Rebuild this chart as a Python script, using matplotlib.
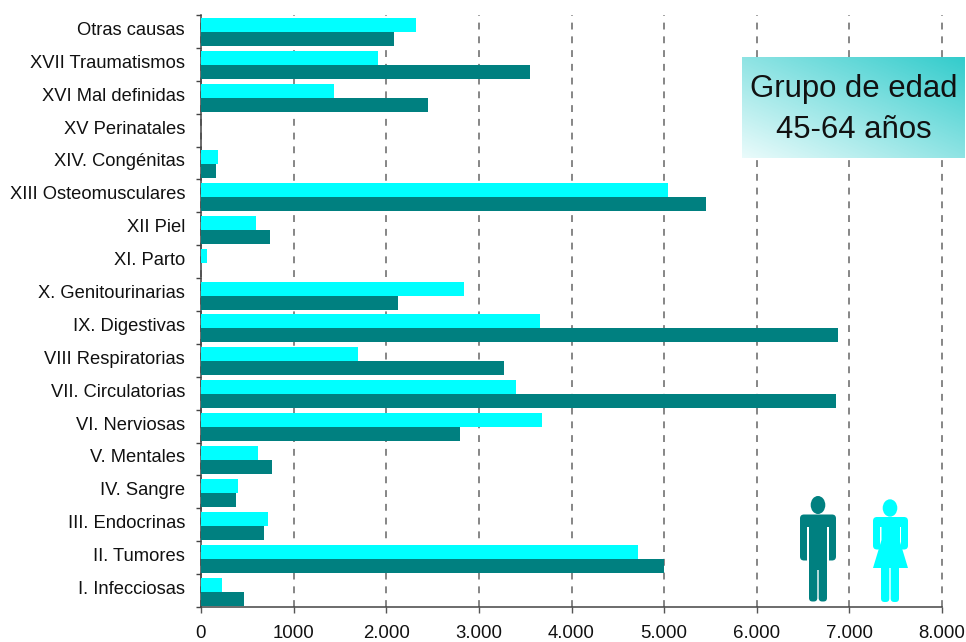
import numpy as np
import matplotlib
matplotlib.use("Agg")
import matplotlib.pyplot as plt
from matplotlib.colors import LinearSegmentedColormap
from matplotlib.patches import Ellipse, FancyBboxPatch, Polygon, Rectangle
from matplotlib.transforms import Affine2D

categories = ["Otras causas", "XVII Traumatismos", "XVI Mal definidas", "XV Perinatales",
              "XIV. Congénitas", "XIII Osteomusculares", "XII Piel", "XI. Parto",
              "X. Genitourinarias", "IX. Digestivas", "VIII Respiratorias", "VII. Circulatorias",
              "VI. Nerviosas", "V. Mentales", "IV. Sangre", "III. Endocrinas", "II. Tumores",
              "I. Infecciosas"]
mujeres = [2320, 1910, 1435, 0, 180, 5040, 595, 70, 2840, 3660, 1695, 3400, 3680, 615, 400, 725, 4720, 225]
hombres = [2080, 3550, 2450, 0, 160, 5450, 745, 0, 2125, 6875, 3270, 6855, 2795, 765, 380, 680, 5000, 465]
xticks = [0, 1000, 2000, 3000, 4000, 5000, 6000, 7000, 8000]
xticklabels = ["0", "1000", "2.000", "3.000", "4.000", "5.000", "6.000", "7.000", "8.000"]

W, H = 966, 642
CYAN, TEAL = "#00FFFF", "#008080"
plt.rcParams["font.family"] = ["Liberation Sans", "DejaVu Sans"]

fig = plt.figure(figsize=(W / 100, H / 100), dpi=100)
ax = fig.add_axes([201 / W, 1 - 607 / H, 741 / W, 592 / H])

y = np.arange(len(categories)) + 0.03
bar_h = 0.425
ax.barh(y - bar_h / 2, mujeres, height=bar_h, color=CYAN, zorder=3)
ax.barh(y + bar_h / 2, hombres, height=bar_h, color=TEAL, zorder=3)

ax.set_xlim(0, 8000)
ax.set_ylim(len(categories) - 0.5, -0.5)
ax.set_xticks(xticks, xticklabels, fontsize=13.4, color="#111111")
ax.tick_params(axis="x", length=4.3, width=1, color="#555555", pad=9)

# Category labels sit between the boundary ticks on the left spine
ax.set_yticks(np.arange(len(categories) + 1) - 0.5, [""] * (len(categories) + 1))
ax.tick_params(axis="y", length=3.6, width=1, color="#444444")
for yi, name in enumerate(categories):
    ax.annotate(name, xy=(0, yi), xycoords=("data", "data"), xytext=(-16, 1),
                textcoords="offset pixels", ha="right", va="center",
                fontsize=13.2, color="#111111")

ax.grid(axis="x", linestyle=(0, (4.5, 4.5)), color="#666666", linewidth=1.1, zorder=1)
for line in ax.get_xgridlines():
    line.set_clip_on(False)
for side in ("top", "right"):
    ax.spines[side].set_visible(False)
for side in ("left", "bottom"):
    ax.spines[side].set_color("#444444")
    ax.spines[side].set_linewidth(1.1)

# Age-group box with a diagonal gradient
box = fig.add_axes([742 / W, 1 - 158 / H, 223 / W, 101 / H], zorder=5)
gx, gy = np.meshgrid(np.linspace(0, 1, 200), np.linspace(0, 1, 100))
cmap = LinearSegmentedColormap.from_list("caja", ["#EAFBFB", "#33CCCC"])
box.imshow((gx + gy) / 2, origin="lower", cmap=cmap, aspect="auto", extent=(0, 1, 0, 1))
box.axis("off")
box.text(0.5, 0.68, "Grupo de edad", ha="center", va="center", fontsize=22.4, color="#111111")
box.text(0.5, 0.28, "45-64 años", ha="center", va="center", fontsize=22.4, color="#111111")

# Figure icons, laid out in pixels from the top-left corner
px = Affine2D().scale(1 / W, -1 / H).translate(0, 1) + fig.transFigure


def rounded(x0, y0, x1, y1, r, color):
    fig.add_artist(FancyBboxPatch((x0 + r, y0 + r), x1 - x0 - 2 * r, y1 - y0 - 2 * r,
                                  boxstyle=f"round,pad={r},rounding_size={r}",
                                  fc=color, ec="none", transform=px, zorder=6))


def head(cx, cy, rx, ry, color):
    fig.add_artist(Ellipse((cx, cy), 2 * rx, 2 * ry, fc=color, ec="none", transform=px, zorder=6))


# Man
head(818, 505, 7.3, 9, TEAL)
rounded(800, 514.5, 836, 560.5, 4, TEAL)
for x0, x1 in ((807, 809), (827, 829)):
    fig.add_artist(Rectangle((x0, 527), x1 - x0, 40, fc="white", ec="none", transform=px, zorder=6))
rounded(809, 520, 827, 570, 1, TEAL)
rounded(809, 550, 817.3, 601.5, 3.5, TEAL)
rounded(818.7, 550, 827, 601.5, 3.5, TEAL)

# Woman
head(890, 508, 7.3, 8.7, CYAN)
rounded(873, 517, 908, 549.5, 4, CYAN)
for x0, x1 in ((880, 881.5), (899.5, 901)):
    fig.add_artist(Rectangle((x0, 527), x1 - x0, 24, fc="white", ec="none", transform=px, zorder=6))
fig.add_artist(Polygon([(881.5, 522), (899.5, 522), (899.5, 540), (908, 568), (873, 568), (881.5, 540)],
                       closed=True, fc=CYAN, ec="none", transform=px, zorder=6))
rounded(881, 560, 889.3, 602, 3.5, CYAN)
rounded(890.7, 560, 899, 602, 3.5, CYAN)

fig.savefig("out.png", dpi=100)
